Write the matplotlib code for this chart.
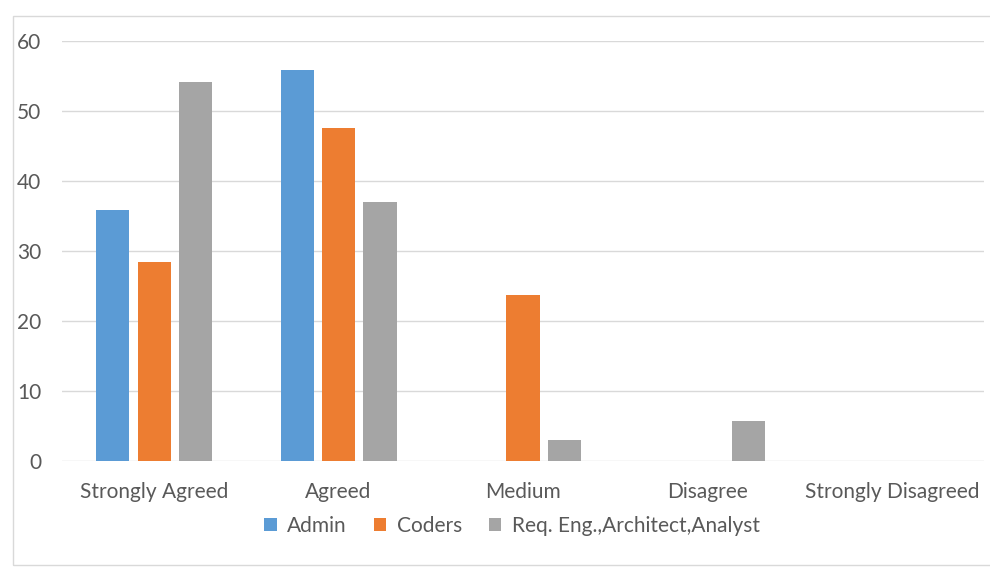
import matplotlib
matplotlib.use("Agg")
import matplotlib.pyplot as plt
import numpy as np
from matplotlib.patches import Rectangle

categories = ["Strongly Agreed", "Agreed", "Medium", "Disagree", "Strongly Disagreed"]
series_names = ["Admin", "Coders", "Req. Eng.,Architect,Analyst"]
admin = [35.9, 55.9, 0, 0, 0]
coders = [28.4, 47.6, 23.7, 0, 0]
req = [54.1, 37.0, 3.0, 5.7, 0]
colors = ["#5B9BD5", "#ED7D31", "#A5A5A5"]
yticks = [0, 10, 20, 30, 40, 50, 60]

plt.rcParams['font.family'] = ['Lato', 'DejaVu Sans']
W, H = 990, 567
fig = plt.figure(figsize=(W / 100, H / 100), dpi=100)

# outer chart border
fig.patches.append(Rectangle((13 / W, 1 - 565 / H), (995 - 13) / W, (565 - 16) / H,
                             transform=fig.transFigure, fill=False,
                             edgecolor="#D9D9D9", lw=1.0))

ax = fig.add_axes([62 / W, 1 - 461 / H, (984 - 62) / W, (461 - 41) / H])
x = np.arange(len(categories))
width = 0.18
offset = 0.225
for i, (vals, name) in enumerate(zip([admin, coders, req], series_names)):
    ax.bar(x + (i - 1) * offset, vals, width, color=colors[i], label=name, zorder=3)

ax.set_xlim(-0.5, len(categories) - 0.5)
ax.set_ylim(0, 60)
ax.set_yticks(yticks)
ax.set_xticks(x)
ax.set_xticklabels(categories)
ax.yaxis.grid(True, color="#D9D9D9", lw=1.0, zorder=0)
for s in ax.spines.values():
    s.set_visible(False)
ax.tick_params(axis="both", length=0, labelsize=15, labelcolor="#595959")
ax.tick_params(axis="y", pad=15)
ax.tick_params(axis="x", pad=15)

handles, labels = ax.get_legend_handles_labels()
fig.legend(handles, labels, loc="center", bbox_to_anchor=(512 / W, 1 - 526 / H),
           ncol=3, frameon=False, fontsize=15, labelcolor="#595959",
           handlelength=0.6, handleheight=0.6, handletextpad=0.5, columnspacing=1.3)

fig.savefig("out.png", dpi=100, facecolor="white")
